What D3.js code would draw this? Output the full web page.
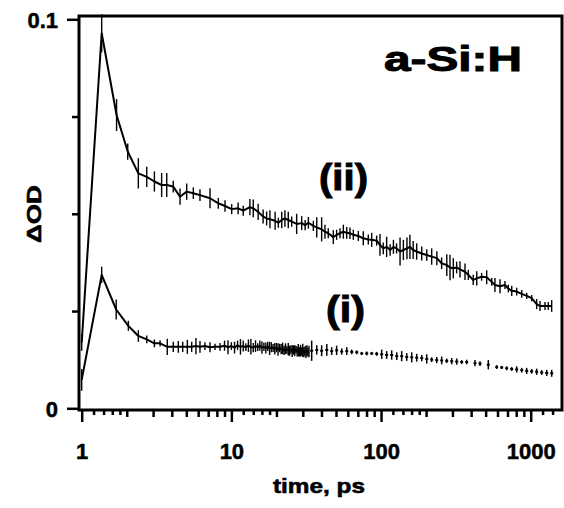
<!DOCTYPE html>
<html><head><meta charset="utf-8">
<script src="https://cdn.jsdelivr.net/npm/d3@7"></script>
<style>
body{margin:0;background:#fff}
svg{display:block}
text{font-family:"Liberation Sans",Arial,Helvetica,sans-serif;font-weight:bold;fill:#000}
</style>
</head><body><svg id="c" width="564" height="508"></svg>
<script>
// ---- data ----
const xTickValues = [1, 10, 100, 1000];
const xTickLabels = ["1", "10", "100", "1000"];
const yTickValues = [0, 0.1];
const yTickLabels = ["0", "0.1"];
const yMinorTicks = [0.025, 0.05, 0.075];

// series (ii): time (ps), dOD, error
const tII = [1.0,1.36,1.71,2.03,2.39,2.72,3.06,3.42,3.70,4.09,4.54,5.03,5.57,6.17,7.20,8.18,9.07,10.05,11.1,12.0,13.3,14.0,15.1,16.3,17.2,18.1,19.6,20.6,21.7,22.8,24.0,25.3,27.3,29.5,31.1,32.7,35.3,37.2,40.1,42.2,44.4,48.0,50.5,53.2,56.0,59.0,62.0,65.3,70.5,76.1,82.2,86.6,93.5,98.4,103.5,109,115,121,127,134,141,149,156,164,173,187,202,218,236,254,275,289,304,320,337,364,383,413,436,470,508,549,577,624,673,709,747,806,871,940,1015,1096,1154,1246,1311,1381];
const vII = [0.0169,0.0964,0.0754,0.0660,0.0604,0.0595,0.0583,0.0574,0.0574,0.0570,0.0544,0.0557,0.0553,0.0548,0.0540,0.0527,0.0520,0.0512,0.0514,0.0508,0.0517,0.0514,0.0505,0.0493,0.0488,0.0486,0.0482,0.0477,0.0484,0.0488,0.0484,0.0480,0.0474,0.0476,0.0471,0.0477,0.0469,0.0465,0.0460,0.0454,0.0450,0.0440,0.0446,0.0450,0.0454,0.0451,0.0450,0.0446,0.0443,0.0437,0.0434,0.0433,0.0431,0.0420,0.0411,0.0415,0.0407,0.0415,0.0411,0.0403,0.0407,0.0411,0.0415,0.0407,0.0403,0.0398,0.0394,0.0390,0.0386,0.0373,0.0368,0.0362,0.0360,0.0362,0.0357,0.0351,0.0343,0.0330,0.0334,0.0338,0.0337,0.0325,0.0317,0.0314,0.0317,0.0308,0.0302,0.0300,0.0294,0.0289,0.0283,0.0268,0.0263,0.0263,0.0263,0.0263];
const eII = [0.0021,0.0049,0.0041,0.0021,0.0039,0.0026,0.0026,0.0031,0.0031,0.0015,0.0021,0.0021,0.0015,0.0015,0.0026,0.0014,0.0015,0.0013,0.0015,0.0013,0.0021,0.0023,0.0021,0.0018,0.0018,0.0023,0.0023,0.0013,0.0021,0.0021,0.0021,0.0013,0.0026,0.0018,0.0013,0.0015,0.0013,0.0026,0.0031,0.0018,0.0013,0.0018,0.0013,0.0013,0.0018,0.0015,0.0015,0.0013,0.0013,0.0018,0.0013,0.0018,0.0013,0.0028,0.0015,0.0026,0.0015,0.0018,0.0013,0.0036,0.0026,0.0028,0.0031,0.0023,0.0021,0.0018,0.0015,0.0021,0.0018,0.0015,0.0028,0.0033,0.0026,0.0015,0.0021,0.0021,0.0013,0.0013,0.0018,0.0010,0.0018,0.0010,0.0018,0.0018,0.0010,0.0010,0.0013,0.0010,0.0010,0.0008,0.0008,0.0013,0.0013,0.0010,0.0010,0.0015];

// series (i), connected part
const tI = [1.0,1.36,1.70,2.05,2.39,2.72,3.06,3.34,3.73,4.09,4.42,4.73,5.08,5.43,5.80,6.17,6.66,7.20,7.78,8.40,9,9.5,10,10.5,11,11.5,12,12.5,13,13.5,14,14.5,15,15.5,16,16.5,17,17.5,18,18.5,19,19.5,20,20.5,21,21.5,22,22.5,23,23.5,24,24.5,25,25.5,26,26.5,27,27.5,28,28.5,29,29.5,30,30.5,31,31.5,32,32.5,33];
const vI = [0.0073,0.0343,0.0254,0.0212,0.0186,0.0177,0.0167,0.0167,0.0158,0.0158,0.0158,0.0158,0.0158,0.0158,0.0160,0.0158,0.0160,0.0157,0.0158,0.0158,0.0161,0.0157,0.0160,0.0156,0.0162,0.0158,0.0160,0.0157,0.0161,0.0158,0.0156,0.0160,0.0157,0.0161,0.0156,0.0158,0.0155,0.0159,0.0154,0.0157,0.0155,0.0153,0.0156,0.0151,0.0155,0.0152,0.0154,0.0149,0.0153,0.0150,0.0152,0.0148,0.0151,0.0147,0.0150,0.0148,0.0151,0.0146,0.0149,0.0145,0.0148,0.0146,0.0149,0.0144,0.0147,0.0145,0.0148,0.0144,0.0146];
const eI = [0.0028,0.0021,0.0026,0.0013,0.0015,0.0010,0.0010,0.0008,0.0021,0.0013,0.0015,0.0013,0.0018,0.0013,0.0021,0.0015,0.0010,0.0013,0.0008,0.0010,0.0013,0.0018,0.0010,0.0015,0.0012,0.0020,0.0014,0.0010,0.0016,0.0020,0.0012,0.0015,0.0010,0.0013,0.0016,0.0011,0.0014,0.0012,0.0017,0.0013,0.0010,0.0015,0.0012,0.0016,0.0011,0.0013,0.0015,0.0012,0.0014,0.0010,0.0016,0.0013,0.0011,0.0015,0.0012,0.0014,0.0010,0.0013,0.0016,0.0012,0.0015,0.0011,0.0017,0.0013,0.0012,0.0016,0.0014,0.0011,0.0015];

// series (i), sparse tail (points + error bars only)
const tItail = [34.4,37.2,40.1,43.4,46.8,50.5,54.6,59.0,63.7,68.8,74.3,80.2,86.6,93.5,101,109,117.8,127.3,137.4,148.5,160.3,173.1,187,202,218,235.5,254.3,274.6,296.6,320.3,345.9,373.5,424.5,458.3,521,592.6,640,691,746.5,806,871,940,1015,1096,1184,1279,1381];
const vItail = [0.0148,0.0150,0.0148,0.0150,0.0147,0.0149,0.0146,0.0147,0.0145,0.0144,0.0141,0.0141,0.0141,0.0140,0.0139,0.0137,0.0137,0.0134,0.0134,0.0132,0.0131,0.0130,0.0129,0.0127,0.0125,0.0124,0.0123,0.0122,0.0121,0.0120,0.0119,0.0119,0.0116,0.0115,0.0112,0.0106,0.0105,0.0103,0.0101,0.0100,0.0098,0.0096,0.0095,0.0094,0.0092,0.0091,0.0090];
const eItail = [0.0026,0.0012,0.0014,0.0015,0.0010,0.0012,0.0008,0.0010,0.0006,0.0005,0.0004,0.0005,0.0004,0.0005,0.0012,0.0010,0.0012,0.0010,0.0013,0.0010,0.0013,0.0010,0.0008,0.0012,0.0006,0.0008,0.0010,0.0006,0.0008,0.0008,0.0005,0.0006,0.0008,0.0006,0.0012,0.0005,0.0004,0.0005,0.0005,0.0008,0.0006,0.0008,0.0006,0.0008,0.0006,0.0008,0.0009];

// ---- drawing ----
const svg = d3.select("#c");
const L = 79, R = 562, T = 16, B = 410;
const x = d3.scaleLog().domain([1, 1000]).range([81.7, 530.7]);
const y = d3.scaleLinear().domain([0, 0.1]).range([408.3, 19.3]);

const zip = (t, v, e) => t.map((d, i) => ({t: d, v: v[i], e: e[i]}));
const dII = zip(tII, vII, eII);
const dI = zip(tI, vI, eI);
const dItail = zip(tItail, vItail, eItail);

// minor x ticks
const xSmall = [], xMed = [];
xTickValues.forEach(d => {
  [1.2, 1.4, 1.6, 1.8].forEach(m => { if (d * m <= 1500) xSmall.push(d * m); });
  [2,3,4,5,6,7,8,9].forEach(m => { if (d * m <= 1500) xMed.push(d * m); });
});

function styleAxis(g) {
  g.select(".domain").remove();
  g.selectAll(".tick line").attr("stroke", "#000").attr("stroke-width", 2.5);
}

const gxSmall = svg.append("g").attr("transform", `translate(0,${B})`)
  .call(d3.axisBottom(x).tickValues(xSmall).tickSize(5).tickFormat(""));
styleAxis(gxSmall);
const gxMed = svg.append("g").attr("transform", `translate(0,${B})`)
  .call(d3.axisBottom(x).tickValues(xMed).tickSize(7).tickFormat(""));
styleAxis(gxMed);
const gx = svg.append("g").attr("transform", `translate(0,${B})`)
  .call(d3.axisBottom(x).tickValues(xTickValues).tickSize(12).tickPadding(21)
    .tickFormat((d, i) => xTickLabels[i]));
styleAxis(gx);
gx.selectAll("text").attr("font-size", 22).attr("font-family", null).attr("fill", "#000")
  .attr("stroke", "#000").attr("stroke-width", 0.5);

const gyMinor = svg.append("g").attr("transform", `translate(${L},0)`)
  .call(d3.axisLeft(y).tickValues(yMinorTicks).tickSize(7).tickFormat(""));
styleAxis(gyMinor);
const gy = svg.append("g").attr("transform", `translate(${L},0)`)
  .call(d3.axisLeft(y).tickValues(yTickValues).tickSize(12).tickPadding(9)
    .tickFormat((d, i) => yTickLabels[i]));
styleAxis(gy);
gy.selectAll("text").attr("font-size", 22).attr("font-family", null).attr("fill", "#000")
  .attr("dy", "0.38em").attr("stroke", "#000").attr("stroke-width", 0.5);

// frame
svg.append("rect").attr("x", L).attr("y", T).attr("width", R - L).attr("height", B - T)
  .attr("fill", "none").attr("stroke", "#000").attr("stroke-width", 3);

const line = d3.line().x(d => x(d.t)).y(d => y(d.v));

function errorBars(data, w) {
  svg.append("g").selectAll("line").data(data).join("line")
    .attr("x1", d => x(d.t)).attr("x2", d => x(d.t))
    .attr("y1", d => y(d.v - d.e)).attr("y2", d => y(d.v + d.e))
    .attr("stroke", "#000").attr("stroke-width", w);
}

// series (ii)
svg.append("path").datum(dII).attr("d", line).attr("fill", "none")
  .attr("stroke", "#000").attr("stroke-width", 2).attr("stroke-linejoin", "round");
errorBars(dII, 1.4);

// series (i)
svg.append("path").datum(dI).attr("d", line).attr("fill", "none")
  .attr("stroke", "#000").attr("stroke-width", 2).attr("stroke-linejoin", "round");
errorBars(dI, 1.4);
errorBars(dItail, 1.5);
svg.append("g").selectAll("line").data(dItail).join("line")
  .attr("x1", d => x(d.t) - 1.5).attr("x2", d => x(d.t) + 1.5)
  .attr("y1", d => y(d.v)).attr("y2", d => y(d.v))
  .attr("stroke", "#000").attr("stroke-width", 2);

// labels
function label(sel, sw) { return sel.attr("stroke", "#000").attr("stroke-width", sw); }
label(svg.append("text").attr("x", 384).attr("y", 71).attr("font-size", 35)
  .attr("textLength", 138).attr("lengthAdjust", "spacingAndGlyphs").text("a-Si:H"), 1);
label(svg.append("text").attr("x", 319).attr("y", 190).attr("font-size", 37)
  .attr("textLength", 49).attr("lengthAdjust", "spacingAndGlyphs").text("(ii)"), 1);
label(svg.append("text").attr("x", 326).attr("y", 322).attr("font-size", 37)
  .attr("textLength", 39).attr("lengthAdjust", "spacingAndGlyphs").text("(i)"), 1);
label(svg.append("text").attr("transform", "translate(41,214) rotate(-90)")
  .attr("text-anchor", "middle").attr("font-size", 20)
  .attr("textLength", 58).attr("lengthAdjust", "spacingAndGlyphs").text("ΔOD"), 0.6);
label(svg.append("text").attr("x", 319).attr("y", 493).attr("text-anchor", "middle")
  .attr("font-size", 21).attr("textLength", 92).attr("lengthAdjust", "spacingAndGlyphs").text("time, ps"), 0.6);
</script>
</body></html>
